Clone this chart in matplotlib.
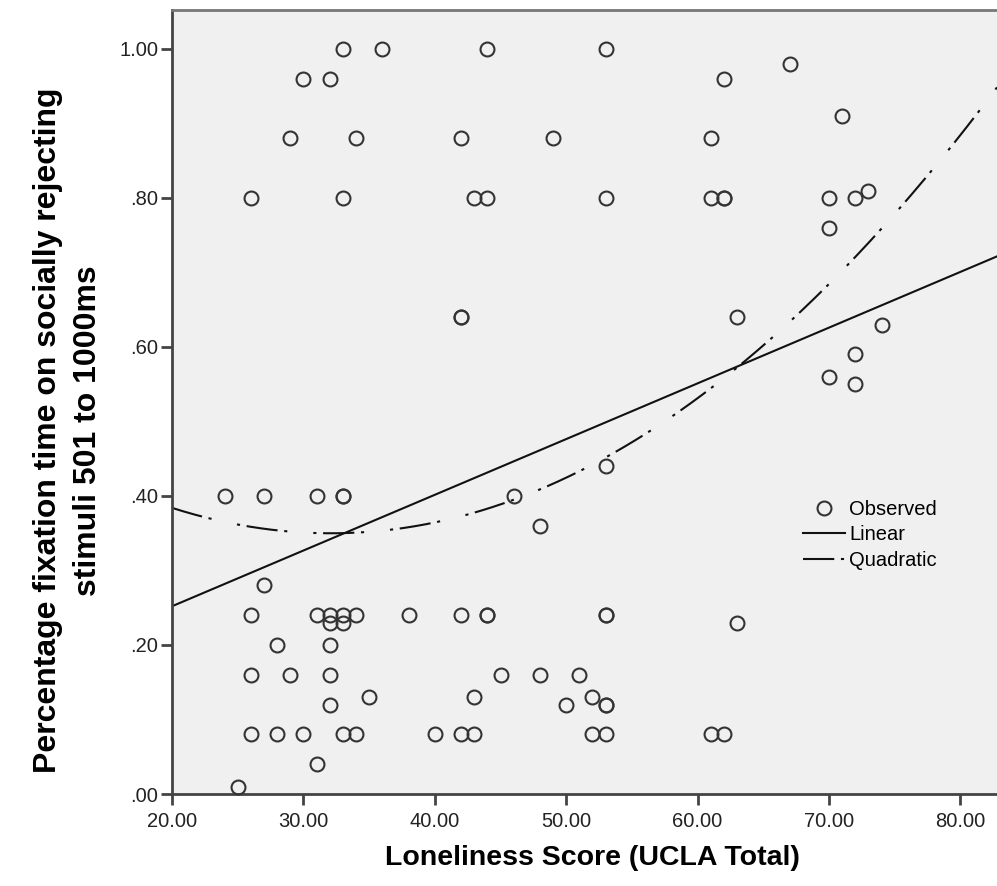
import numpy as np
import matplotlib
matplotlib.use('Agg')
import matplotlib.pyplot as plt

plt.rcParams['font.family'] = ['Liberation Sans', 'DejaVu Sans']

# observed points (UCLA total, proportion of fixation time)
loneliness = [33, 36, 44, 53,
              67,
              30, 32, 62,
              71,
              29, 34, 42, 49, 61,
              73,
              26, 33, 43, 44, 53, 61, 62, 62, 70, 72,
              70,
              42, 42, 63,
              74, 72, 70, 72,
              53,
              24, 27, 31, 33, 33, 46,
              48,
              27,
              26, 31, 32, 33, 34, 38, 42, 44, 44, 53, 53,
              32, 33, 63,
              28, 32,
              26, 29, 32, 45, 48, 51,
              35, 43, 52,
              32, 50, 53, 53,
              26, 28, 30, 33, 34, 40, 42, 43, 52, 53, 61, 62,
              31,
              25]
fixation = [1.00, 1.00, 1.00, 1.00,
            0.98,
            0.96, 0.96, 0.96,
            0.91,
            0.88, 0.88, 0.88, 0.88, 0.88,
            0.81,
            0.80, 0.80, 0.80, 0.80, 0.80, 0.80, 0.80, 0.80, 0.80, 0.80,
            0.76,
            0.64, 0.64, 0.64,
            0.63, 0.59, 0.56, 0.55,
            0.44,
            0.40, 0.40, 0.40, 0.40, 0.40, 0.40,
            0.36,
            0.28,
            0.24, 0.24, 0.24, 0.24, 0.24, 0.24, 0.24, 0.24, 0.24, 0.24, 0.24,
            0.23, 0.23, 0.23,
            0.20, 0.20,
            0.16, 0.16, 0.16, 0.16, 0.16, 0.16,
            0.13, 0.13, 0.13,
            0.12, 0.12, 0.12, 0.12,
            0.08, 0.08, 0.08, 0.08, 0.08, 0.08, 0.08, 0.08, 0.08, 0.08, 0.08, 0.08,
            0.04,
            0.01]

# fitted curves as drawn (highest power first)
linear_coef = [0.00748, 0.1024]
quadratic_coef = [0.000233, -0.01496, 0.5901]

x_ticks = [20, 30, 40, 50, 60, 70, 80]
y_ticks = [0.0, 0.2, 0.4, 0.6, 0.8, 1.0]

fig = plt.figure(figsize=(9.97, 8.86), dpi=100)
ax = fig.add_axes([172/997, 1 - 794/886, 1 - 172/997, (794 - 10)/886])
ax.set_facecolor('#f0f0f0')

x_min, x_max = 20, 20 + 825/13.14
ax.set_xlim(x_min, x_max)
ax.set_ylim(0, 784/745)

ax.plot(loneliness, fixation, linestyle='none', marker='o', ms=10,
        mfc='none', mec='#333333', mew=1.5, label='Observed', clip_on=False, zorder=3)

# SPSS style dash-dot: dash, gap, dot, long gap, dot, gap
quad_style = (0, (15, 3.2, 1.5, 12.5, 1.5, 3.2))

xs = np.linspace(x_min, x_max, 300)
ax.plot(xs, np.polyval(linear_coef, xs), color='#111111', lw=1.5, label='Linear')
ax.plot(xs, np.polyval(quadratic_coef, xs), color='#111111', lw=1.5,
        linestyle=quad_style, label='Quadratic')

ax.set_xticks(x_ticks)
ax.set_xticklabels([f'{t:.2f}' for t in x_ticks])
ax.set_yticks(y_ticks)
ax.set_yticklabels(['.00', '.20', '.40', '.60', '.80', '1.00'])
ax.tick_params(axis='both', direction='out', length=8, width=2, color='#444444',
               labelsize=14.5, labelcolor='#222222')
ax.tick_params(axis='x', pad=5)
ax.tick_params(axis='y', pad=2)

for side in ['left', 'bottom']:
    ax.spines[side].set_color('#444444')
    ax.spines[side].set_linewidth(2)
ax.spines['top'].set_color('#777777')
ax.spines['top'].set_linewidth(2)
ax.spines['right'].set_visible(False)

ax.set_xlabel('Loneliness Score (UCLA Total)', fontsize=20.5, fontweight='bold', labelpad=12)
ax.xaxis.set_label_coords(0.51, -0.065)
ax.set_ylabel('Percentage fixation time on socially rejecting\nstimuli 501 to 1000ms',
              fontsize=23, fontweight='bold', linespacing=1.4)
ax.yaxis.set_label_coords(-0.084, 0.464)

ax.legend(loc='upper left', bbox_to_anchor=(803/997, 1 - 500/886),
          bbox_transform=fig.transFigure, frameon=False, fontsize=14.5,
          borderpad=0, borderaxespad=0, handlelength=2.1, handletextpad=0.2,
          labelspacing=0.32)

fig.savefig('out.png', dpi=100, facecolor='white')
